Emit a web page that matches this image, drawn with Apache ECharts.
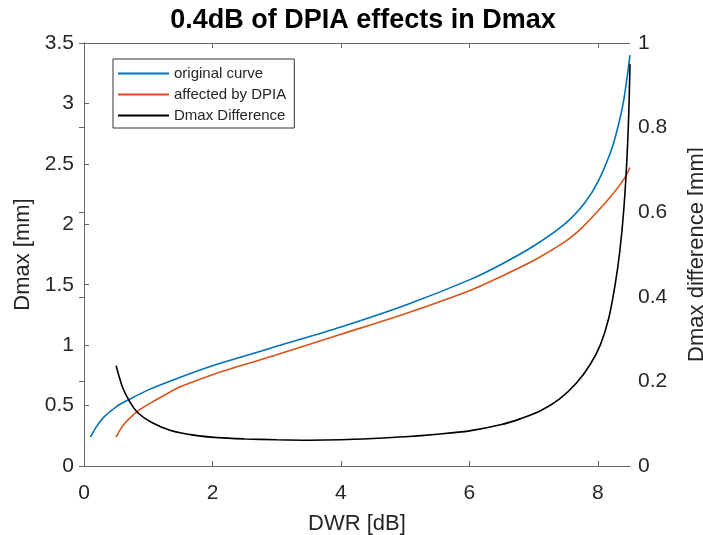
<!DOCTYPE html>
<html lang="en">
<head>
    <meta charset="UTF-8">
    <title>DPIA effects in Dmax</title>
    <script src="https://cdn.jsdelivr.net/npm/echarts@6/dist/echarts.min.js"></script>
</head>
<body style="margin:0;">
<div id="main" style="width:703px; height:535px;"></div>
<script type="text/javascript">

    // values
    let dwrOrig  = [0.1, 0.2, 0.3, 0.5, 0.7, 1.0, 1.5, 2.0, 2.5, 3.0, 4.0, 5.0, 6.0, 6.5, 7.0, 7.5, 7.8, 8.0, 8.2, 8.3, 8.4, 8.5];
    let dmaxOrig = [0.24, 0.33, 0.40, 0.49, 0.55, 0.63, 0.735, 0.83, 0.91, 0.99, 1.15, 1.33, 1.54, 1.67, 1.82, 2.01, 2.18, 2.35, 2.60, 2.78, 3.02, 3.40];

    let dwrDpia  = [0.5, 0.6, 0.7, 0.85, 1.0, 1.3, 1.5, 2.0, 2.5, 3.0, 4.0, 5.0, 6.0, 6.5, 7.0, 7.5, 7.75, 8.0, 8.2, 8.4, 8.5];
    let dmaxDpia = [0.24, 0.33, 0.39, 0.46, 0.51, 0.60, 0.655, 0.755, 0.84, 0.92, 1.09, 1.26, 1.45, 1.57, 1.70, 1.86, 1.97, 2.11, 2.23, 2.37, 2.47];

    let dwrDiff  = [0.5, 0.6, 0.7, 0.83, 1.04, 1.35, 1.71, 2.08, 2.5, 3.0, 3.5, 4.0, 4.5, 5.0, 5.5, 6.0, 6.5, 6.8, 7.1, 7.4, 7.67, 7.88, 8.04, 8.17, 8.27, 8.34, 8.4, 8.45, 8.48, 8.5];
    let dmaxDiff = [0.237, 0.186, 0.155, 0.127, 0.104, 0.084, 0.073, 0.067, 0.064, 0.062, 0.061, 0.062, 0.065, 0.069, 0.075, 0.083, 0.098, 0.112, 0.13, 0.158, 0.197, 0.24, 0.287, 0.35, 0.43, 0.506, 0.60, 0.72, 0.83, 0.95];

    let xTicks = [0, 2, 4, 6, 8];

    function pairs(xs, ys) {
        return xs.map(function (x, i) { return [x, ys[i]]; });
    }

    let axisColor = '#666666';
    let textColor = '#262626';
    let font = 'Liberation Sans';

    let myChart = echarts.init(document.getElementById('main'));

    let option = {
        animation: false,
        textStyle: { fontFamily: font },
        title: {
            text: '0.4dB of DPIA effects in Dmax',
            left: 358,
            top: 2,
            textAlign: 'center',
            textStyle: { fontSize: 27, fontWeight: 'bold', color: '#000', fontFamily: font }
        },
        legend: {
            orient: 'vertical',
            left: 113,
            top: 59,
            padding: [6, 8, 4, 5],
            itemGap: 4,
            itemWidth: 51,
            itemHeight: 2,
            icon: 'rect',
            borderColor: '#333',
            borderWidth: 1,
            textStyle: { fontSize: 15, lineHeight: 17, color: textColor, fontFamily: font },
            data: ['original curve', 'affected by DPIA', 'Dmax Difference']
        },
        grid: { left: 84, right: 73, top: 43, bottom: 69, outerBoundsMode: 'none' },
        xAxis: [{
            type: 'value',
            min: 0,
            max: 8.5,
            interval: 2,
            name: 'DWR [dB]',
            nameLocation: 'middle',
            nameGap: 47,
            nameTextStyle: { fontSize: 22, color: textColor },
            axisLine: { lineStyle: { color: axisColor } },
            axisTick: { inside: true, length: 5, customValues: xTicks, lineStyle: { color: axisColor } },
            axisLabel: { customValues: xTicks, fontSize: 21, color: textColor, margin: 17 },
            splitLine: { show: false }
        }, {
            type: 'value',
            position: 'top',
            min: 0,
            max: 8.5,
            interval: 2,
            axisLine: { show: true, onZero: false, lineStyle: { color: axisColor } },
            axisTick: { inside: true, length: 5, customValues: xTicks, lineStyle: { color: axisColor } },
            axisLabel: { show: false },
            splitLine: { show: false }
        }],
        yAxis: [{
            type: 'value',
            min: 0,
            max: 3.5,
            interval: 0.5,
            name: 'Dmax [mm]',
            nameLocation: 'middle',
            nameGap: 48,
            nameTextStyle: { fontSize: 22, color: textColor },
            axisLine: { show: true, lineStyle: { color: axisColor } },
            axisTick: { show: true, inside: true, length: 5, lineStyle: { color: axisColor } },
            axisLabel: { fontSize: 21, color: textColor, margin: 10 },
            splitLine: { show: false }
        }, {
            type: 'value',
            min: 0,
            max: 1,
            interval: 0.2,
            position: 'right',
            name: 'Dmax difference [mm]',
            nameLocation: 'middle',
            nameGap: 56,
            nameRotate: 90,
            nameTextStyle: { fontSize: 22, color: textColor },
            axisLine: { show: true, lineStyle: { color: axisColor } },
            axisTick: { show: true, inside: true, length: 5, lineStyle: { color: axisColor } },
            axisLabel: {
                fontSize: 21, color: textColor, margin: 8,
                formatter: function (v) { return String(v); }
            },
            splitLine: { show: false }
        }],
        series: [{
            name: 'original curve',
            type: 'line',
            yAxisIndex: 0,
            data: pairs(dwrOrig, dmaxOrig),
            smooth: 0.3,
            showSymbol: false,
            lineStyle: { color: '#0072BD', width: 1.6 },
            itemStyle: { color: '#0072BD' }
        }, {
            name: 'affected by DPIA',
            type: 'line',
            yAxisIndex: 0,
            data: pairs(dwrDpia, dmaxDpia),
            smooth: 0.3,
            showSymbol: false,
            lineStyle: { color: '#D95319', width: 1.6 },
            itemStyle: { color: '#D95319' }
        }, {
            name: 'Dmax Difference',
            type: 'line',
            yAxisIndex: 1,
            data: pairs(dwrDiff, dmaxDiff),
            smooth: 0.3,
            showSymbol: false,
            lineStyle: { color: '#000000', width: 1.6 },
            itemStyle: { color: '#000000' }
        }]
    };

    myChart.setOption(option);
</script>
</body>
</html>
